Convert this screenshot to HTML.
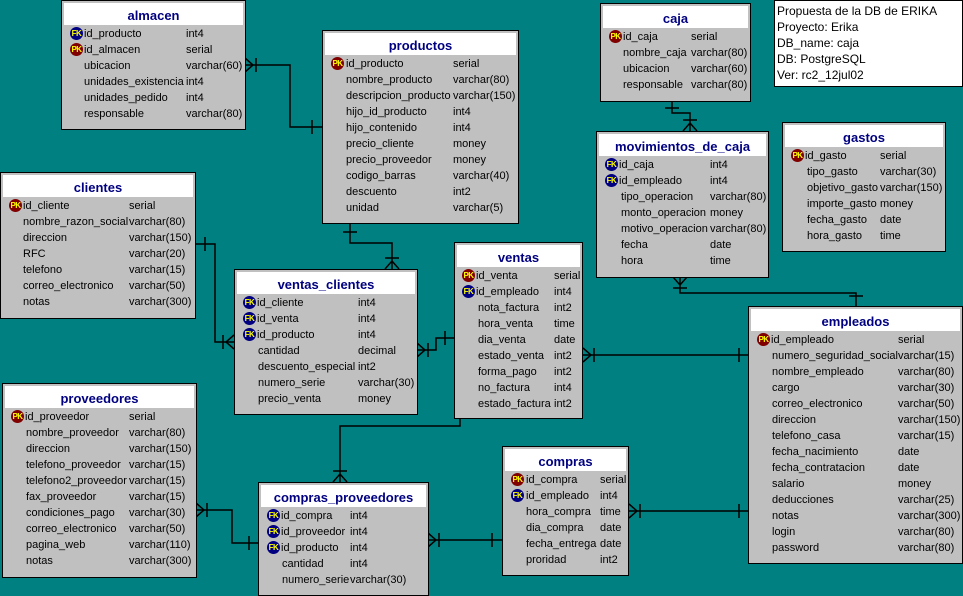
<!DOCTYPE html><html><head><meta charset="utf-8"><style>
body{margin:0;width:963px;height:596px;background:#008080;position:relative;overflow:hidden;font-family:"Liberation Sans",Arial,sans-serif;font-size:11px;color:#000}
.t{position:absolute;background:#c0c0c0;border:1px solid #000;box-sizing:border-box}
.h{position:absolute;left:2px;right:2px;top:2px;height:22px;background:#fff;text-align:center;font-weight:bold;font-size:13px;color:#000080;line-height:26px}
.r{position:absolute;height:16px;line-height:16px;white-space:nowrap}
.i{position:absolute;width:13px;height:13px;border-radius:50%;top:1px;font-size:8px;line-height:13px;text-align:center;color:#ff0;font-weight:bold;letter-spacing:-0.5px}
.pk{background:#800000}.fk{background:#000080}
.note{position:absolute;left:774px;top:0;width:189px;height:87px;background:#fff;border:1px solid #000;box-sizing:border-box;font-size:12px;line-height:16px;padding:2px 0 0 2px}
svg{position:absolute;left:0;top:0}
</style></head><body>
<svg width="963" height="596"><g stroke="#000" stroke-width="1.5" fill="none">
<polyline points="245,65 290,65 290,127 322,127"/><path d="M245,58 L253,65 L245,72 M256,58 V72 M312,120 V134"/>
<polyline points="350,223 350,243 392,243 392,269"/><path d="M343,232 H357 M385,269 L392,261 L399,269 M385,258 H399"/>
<polyline points="195,244 215,244 215,342 234,342"/><path d="M205,237 V251 M234,335 L226,342 L234,349 M223,335 V349"/>
<polyline points="417,350 436,350 436,338 454,338"/><path d="M417,343 L425,350 L417,357 M428,343 V357 M445,331 V345"/>
<polyline points="672,101 672,113 690,113 690,131"/><path d="M665,108 H679 M683,131 L690,123 L697,131 M683,120 H697"/>
<polyline points="680,277 680,293 856,293 856,306"/><path d="M673,277 L680,285 L687,277 M673,288 H687 M849,296 H863"/>
<polyline points="583,355 748,355"/><path d="M583,348 L591,355 L583,362 M594,348 V362 M739,348 V362"/>
<polyline points="460,419 460,426 340,426 340,482"/><path d="M333,482 L340,474 L347,482 M333,471 H347"/>
<polyline points="196,510 232,510 232,543 258,543"/><path d="M196,503 L204,510 L196,517 M207,503 V517 M249,536 V550"/>
<polyline points="428,540 502,540"/><path d="M428,533 L436,540 L428,547 M439,533 V547 M492,533 V547"/>
<polyline points="629,511 748,511"/><path d="M629,504 L637,511 L629,518 M640,504 V518 M739,504 V518"/>
</g></svg>

<div class="t" style="left:61px;top:0;width:185px;height:130px"><div class="h">almacen</div>
<div class="r" style="top:25px;left:8px"><span class="i fk">FK</span></div><div class="r" style="top:25px;left:22px">id_producto</div><div class="r" style="top:25px;left:124px">int4</div>
<div class="r" style="top:41px;left:8px"><span class="i pk">PK</span></div><div class="r" style="top:41px;left:22px">id_almacen</div><div class="r" style="top:41px;left:124px">serial</div>
<div class="r" style="top:57px;left:22px">ubicacion</div><div class="r" style="top:57px;left:124px">varchar(60)</div>
<div class="r" style="top:73px;left:22px">unidades_existencia</div><div class="r" style="top:73px;left:124px">int4</div>
<div class="r" style="top:89px;left:22px">unidades_pedido</div><div class="r" style="top:89px;left:124px">int4</div>
<div class="r" style="top:105px;left:22px">responsable</div><div class="r" style="top:105px;left:124px">varchar(80)</div></div>

<div class="t" style="left:322px;top:30px;width:197px;height:194px"><div class="h">productos</div>
<div class="r" style="top:25px;left:8px"><span class="i pk">PK</span></div><div class="r" style="top:25px;left:23px">id_producto</div><div class="r" style="top:25px;left:130px">serial</div>
<div class="r" style="top:41px;left:23px">nombre_producto</div><div class="r" style="top:41px;left:130px">varchar(80)</div>
<div class="r" style="top:57px;left:23px">descripcion_producto</div><div class="r" style="top:57px;left:130px">varchar(150)</div>
<div class="r" style="top:73px;left:23px">hijo_id_producto</div><div class="r" style="top:73px;left:130px">int4</div>
<div class="r" style="top:89px;left:23px">hijo_contenido</div><div class="r" style="top:89px;left:130px">int4</div>
<div class="r" style="top:105px;left:23px">precio_cliente</div><div class="r" style="top:105px;left:130px">money</div>
<div class="r" style="top:121px;left:23px">precio_proveedor</div><div class="r" style="top:121px;left:130px">money</div>
<div class="r" style="top:137px;left:23px">codigo_barras</div><div class="r" style="top:137px;left:130px">varchar(40)</div>
<div class="r" style="top:153px;left:23px">descuento</div><div class="r" style="top:153px;left:130px">int2</div>
<div class="r" style="top:169px;left:23px">unidad</div><div class="r" style="top:169px;left:130px">varchar(5)</div></div>

<div class="t" style="left:600px;top:3px;width:151px;height:99px"><div class="h">caja</div>
<div class="r" style="top:25px;left:8px"><span class="i pk">PK</span></div><div class="r" style="top:25px;left:22px">id_caja</div><div class="r" style="top:25px;left:90px">serial</div>
<div class="r" style="top:41px;left:22px">nombre_caja</div><div class="r" style="top:41px;left:90px">varchar(80)</div>
<div class="r" style="top:57px;left:22px">ubicacion</div><div class="r" style="top:57px;left:90px">varchar(60)</div>
<div class="r" style="top:73px;left:22px">responsable</div><div class="r" style="top:73px;left:90px">varchar(80)</div></div>

<div class="note">Propuesta de la DB de ERIKA<br>Proyecto: Erika<br>DB_name: caja<br>DB: PostgreSQL<br>Ver: rc2_12jul02</div>

<div class="t" style="left:0;top:172px;width:196px;height:147px"><div class="h">clientes</div>
<div class="r" style="top:25px;left:8px"><span class="i pk">PK</span></div><div class="r" style="top:25px;left:22px">id_cliente</div><div class="r" style="top:25px;left:128px">serial</div>
<div class="r" style="top:41px;left:22px">nombre_razon_social</div><div class="r" style="top:41px;left:128px">varchar(80)</div>
<div class="r" style="top:57px;left:22px">direccion</div><div class="r" style="top:57px;left:128px">varchar(150)</div>
<div class="r" style="top:73px;left:22px">RFC</div><div class="r" style="top:73px;left:128px">varchar(20)</div>
<div class="r" style="top:89px;left:22px">telefono</div><div class="r" style="top:89px;left:128px">varchar(15)</div>
<div class="r" style="top:105px;left:22px">correo_electronico</div><div class="r" style="top:105px;left:128px">varchar(50)</div>
<div class="r" style="top:121px;left:22px">notas</div><div class="r" style="top:121px;left:128px">varchar(300)</div></div>

<div class="t" style="left:596px;top:131px;width:173px;height:147px"><div class="h">movimientos_de_caja</div>
<div class="r" style="top:25px;left:8px"><span class="i fk">FK</span></div><div class="r" style="top:25px;left:22px">id_caja</div><div class="r" style="top:25px;left:113px">int4</div>
<div class="r" style="top:41px;left:8px"><span class="i fk">FK</span></div><div class="r" style="top:41px;left:22px">id_empleado</div><div class="r" style="top:41px;left:113px">int4</div>
<div class="r" style="top:57px;left:24px">tipo_operacion</div><div class="r" style="top:57px;left:113px">varchar(80)</div>
<div class="r" style="top:73px;left:24px">monto_operacion</div><div class="r" style="top:73px;left:113px">money</div>
<div class="r" style="top:89px;left:24px">motivo_operacion</div><div class="r" style="top:89px;left:113px">varchar(80)</div>
<div class="r" style="top:105px;left:24px">fecha</div><div class="r" style="top:105px;left:113px">date</div>
<div class="r" style="top:121px;left:24px">hora</div><div class="r" style="top:121px;left:113px">time</div></div>

<div class="t" style="left:782px;top:122px;width:164px;height:130px"><div class="h">gastos</div>
<div class="r" style="top:25px;left:8px"><span class="i pk">PK</span></div><div class="r" style="top:25px;left:22px">id_gasto</div><div class="r" style="top:25px;left:97px">serial</div>
<div class="r" style="top:41px;left:24px">tipo_gasto</div><div class="r" style="top:41px;left:97px">varchar(30)</div>
<div class="r" style="top:57px;left:24px">objetivo_gasto</div><div class="r" style="top:57px;left:97px">varchar(150)</div>
<div class="r" style="top:73px;left:24px">importe_gasto</div><div class="r" style="top:73px;left:97px">money</div>
<div class="r" style="top:89px;left:24px">fecha_gasto</div><div class="r" style="top:89px;left:97px">date</div>
<div class="r" style="top:105px;left:24px">hora_gasto</div><div class="r" style="top:105px;left:97px">time</div></div>

<div class="t" style="left:234px;top:269px;width:184px;height:146px"><div class="h">ventas_clientes</div>
<div class="r" style="top:25px;left:8px"><span class="i fk">FK</span></div><div class="r" style="top:25px;left:22px">id_cliente</div><div class="r" style="top:25px;left:123px">int4</div>
<div class="r" style="top:41px;left:8px"><span class="i fk">FK</span></div><div class="r" style="top:41px;left:22px">id_venta</div><div class="r" style="top:41px;left:123px">int4</div>
<div class="r" style="top:57px;left:8px"><span class="i fk">FK</span></div><div class="r" style="top:57px;left:22px">id_producto</div><div class="r" style="top:57px;left:123px">int4</div>
<div class="r" style="top:73px;left:23px">cantidad</div><div class="r" style="top:73px;left:123px">decimal</div>
<div class="r" style="top:89px;left:23px">descuento_especial</div><div class="r" style="top:89px;left:123px">int2</div>
<div class="r" style="top:105px;left:23px">numero_serie</div><div class="r" style="top:105px;left:123px">varchar(30)</div>
<div class="r" style="top:121px;left:23px">precio_venta</div><div class="r" style="top:121px;left:123px">money</div></div>

<div class="t" style="left:454px;top:242px;width:129px;height:177px"><div class="h">ventas</div>
<div class="r" style="top:25px;left:7px"><span class="i pk">PK</span></div><div class="r" style="top:25px;left:21px">id_venta</div><div class="r" style="top:25px;left:99px">serial</div>
<div class="r" style="top:41px;left:7px"><span class="i fk">FK</span></div><div class="r" style="top:41px;left:21px">id_empleado</div><div class="r" style="top:41px;left:99px">int4</div>
<div class="r" style="top:57px;left:23px">nota_factura</div><div class="r" style="top:57px;left:99px">int2</div>
<div class="r" style="top:73px;left:23px">hora_venta</div><div class="r" style="top:73px;left:99px">time</div>
<div class="r" style="top:89px;left:23px">dia_venta</div><div class="r" style="top:89px;left:99px">date</div>
<div class="r" style="top:105px;left:23px">estado_venta</div><div class="r" style="top:105px;left:99px">int2</div>
<div class="r" style="top:121px;left:23px">forma_pago</div><div class="r" style="top:121px;left:99px">int2</div>
<div class="r" style="top:137px;left:23px">no_factura</div><div class="r" style="top:137px;left:99px">int4</div>
<div class="r" style="top:153px;left:23px">estado_factura</div><div class="r" style="top:153px;left:99px">int2</div></div>

<div class="t" style="left:748px;top:306px;width:215px;height:258px"><div class="h">empleados</div>
<div class="r" style="top:25px;left:8px"><span class="i pk">PK</span></div><div class="r" style="top:25px;left:22px">id_empleado</div><div class="r" style="top:25px;left:149px">serial</div>
<div class="r" style="top:41px;left:23px">numero_seguridad_social</div><div class="r" style="top:41px;left:149px">varchar(15)</div>
<div class="r" style="top:57px;left:23px">nombre_empleado</div><div class="r" style="top:57px;left:149px">varchar(80)</div>
<div class="r" style="top:73px;left:23px">cargo</div><div class="r" style="top:73px;left:149px">varchar(30)</div>
<div class="r" style="top:89px;left:23px">correo_electronico</div><div class="r" style="top:89px;left:149px">varchar(50)</div>
<div class="r" style="top:105px;left:23px">direccion</div><div class="r" style="top:105px;left:149px">varchar(150)</div>
<div class="r" style="top:121px;left:23px">telefono_casa</div><div class="r" style="top:121px;left:149px">varchar(15)</div>
<div class="r" style="top:137px;left:23px">fecha_nacimiento</div><div class="r" style="top:137px;left:149px">date</div>
<div class="r" style="top:153px;left:23px">fecha_contratacion</div><div class="r" style="top:153px;left:149px">date</div>
<div class="r" style="top:169px;left:23px">salario</div><div class="r" style="top:169px;left:149px">money</div>
<div class="r" style="top:185px;left:23px">deducciones</div><div class="r" style="top:185px;left:149px">varchar(25)</div>
<div class="r" style="top:201px;left:23px">notas</div><div class="r" style="top:201px;left:149px">varchar(300)</div>
<div class="r" style="top:217px;left:23px">login</div><div class="r" style="top:217px;left:149px">varchar(80)</div>
<div class="r" style="top:233px;left:23px">password</div><div class="r" style="top:233px;left:149px">varchar(80)</div></div>

<div class="t" style="left:2px;top:383px;width:195px;height:195px"><div class="h">proveedores</div>
<div class="r" style="top:25px;left:8px"><span class="i pk">PK</span></div><div class="r" style="top:25px;left:22px">id_proveedor</div><div class="r" style="top:25px;left:126px">serial</div>
<div class="r" style="top:41px;left:23px">nombre_proveedor</div><div class="r" style="top:41px;left:126px">varchar(80)</div>
<div class="r" style="top:57px;left:23px">direccion</div><div class="r" style="top:57px;left:126px">varchar(150)</div>
<div class="r" style="top:73px;left:23px">telefono_proveedor</div><div class="r" style="top:73px;left:126px">varchar(15)</div>
<div class="r" style="top:89px;left:23px">telefono2_proveedor</div><div class="r" style="top:89px;left:126px">varchar(15)</div>
<div class="r" style="top:105px;left:23px">fax_proveedor</div><div class="r" style="top:105px;left:126px">varchar(15)</div>
<div class="r" style="top:121px;left:23px">condiciones_pago</div><div class="r" style="top:121px;left:126px">varchar(30)</div>
<div class="r" style="top:137px;left:23px">correo_electronico</div><div class="r" style="top:137px;left:126px">varchar(50)</div>
<div class="r" style="top:153px;left:23px">pagina_web</div><div class="r" style="top:153px;left:126px">varchar(110)</div>
<div class="r" style="top:169px;left:23px">notas</div><div class="r" style="top:169px;left:126px">varchar(300)</div></div>

<div class="t" style="left:258px;top:482px;width:171px;height:114px"><div class="h">compras_proveedores</div>
<div class="r" style="top:25px;left:8px"><span class="i fk">FK</span></div><div class="r" style="top:25px;left:22px">id_compra</div><div class="r" style="top:25px;left:91px">int4</div>
<div class="r" style="top:41px;left:8px"><span class="i fk">FK</span></div><div class="r" style="top:41px;left:22px">id_proveedor</div><div class="r" style="top:41px;left:91px">int4</div>
<div class="r" style="top:57px;left:8px"><span class="i fk">FK</span></div><div class="r" style="top:57px;left:22px">id_producto</div><div class="r" style="top:57px;left:91px">int4</div>
<div class="r" style="top:73px;left:23px">cantidad</div><div class="r" style="top:73px;left:91px">int4</div>
<div class="r" style="top:89px;left:23px">numero_serie</div><div class="r" style="top:89px;left:91px">varchar(30)</div></div>

<div class="t" style="left:502px;top:446px;width:127px;height:130px"><div class="h">compras</div>
<div class="r" style="top:25px;left:8px"><span class="i pk">PK</span></div><div class="r" style="top:25px;left:23px">id_compra</div><div class="r" style="top:25px;left:97px">serial</div>
<div class="r" style="top:41px;left:8px"><span class="i fk">FK</span></div><div class="r" style="top:41px;left:23px">id_empleado</div><div class="r" style="top:41px;left:97px">int4</div>
<div class="r" style="top:57px;left:23px">hora_compra</div><div class="r" style="top:57px;left:97px">time</div>
<div class="r" style="top:73px;left:23px">dia_compra</div><div class="r" style="top:73px;left:97px">date</div>
<div class="r" style="top:89px;left:23px">fecha_entrega</div><div class="r" style="top:89px;left:97px">date</div>
<div class="r" style="top:105px;left:23px">proridad</div><div class="r" style="top:105px;left:97px">int2</div></div>
</body></html>
